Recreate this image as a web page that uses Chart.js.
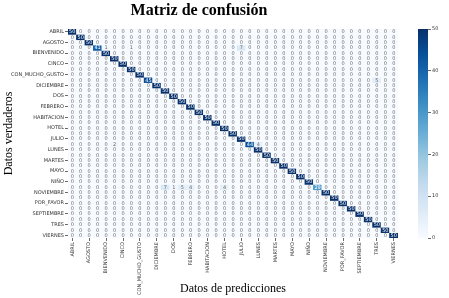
<!DOCTYPE html>
<html>
<head>
<meta charset="utf-8">
<script src="https://cdn.jsdelivr.net/npm/chart.js@4.4.0/dist/chart.umd.min.js"></script>
<style>
  html, body { margin: 0; padding: 0; background: #fff; }
  #wrap { position: relative; width: 449px; height: 298px; }
  #matrix { position: absolute; left: 0; top: 0; }
  #cbar { position: absolute; left: 400px; top: 0; }
</style>
</head>
<body>
<div id="wrap">
  <canvas id="matrix" width="449" height="298"></canvas>
  <canvas id="cbar" width="49" height="298"></canvas>
</div>
<script>
// Confusion matrix: 39 classes, 50 samples each. Only every other class name is shown on the axes.
const CLASSES = [
  "ABRIL", "ADIOS", "AGOSTO", "BIEN", "BIENVENIDO", "BUENOS_DIAS", "CINCO", "COMO_ESTAS",
  "CON_MUCHO_GUSTO", "CUATRO", "DICIEMBRE", "DIEZ", "DOS", "ENERO", "FEBRERO", "GRACIAS",
  "HABITACION", "HOLA", "HOTEL", "JUEVES", "JULIO", "JUNIO", "LUNES", "MAL", "MARTES",
  "MARZO", "MAYO", "MIERCOLES", "NIÑO", "NO", "NOVIEMBRE", "OCTUBRE", "POR_FAVOR",
  "SABADO", "SEPTIEMBRE", "SIETE", "TRES", "UNO", "VIERNES"
];

// correct predictions (diagonal)
const CORRECT = [
  50, 50, 50, 41, 50, 50, 50, 50, 50, 45,
  50, 50, 50, 50, 50, 50, 50, 50, 50, 50,
  50, 44, 50, 50, 50, 50, 50, 50, 50, 29,
  50, 50, 50, 50, 50, 50, 50, 50, 50
];

// misclassifications: [true row, predicted col, count]
const ERRORS = [
  [3, 4, 1], [3, 7, 1], [3, 20, 7],
  [9, 36, 5],
  [21, 5, 2], [21, 22, 4],
  [29, 11, 7], [29, 12, 1], [29, 13, 5], [29, 14, 4], [29, 18, 4]
];

const CBAR_TICKS = [0, 10, 20, 30, 40, 50];
const VMAX = 50;

// matplotlib "Blues"
const BLUES = ["#f7fbff", "#deebf7", "#c6dbef", "#9ecae1", "#6baed6", "#4292c6", "#2171b5", "#08519c", "#08306b"];

const matrix = CLASSES.map((_, r) => CLASSES.map((_, c) => (r === c ? CORRECT[r] : 0)));
ERRORS.forEach(([r, c, n]) => { matrix[r][c] = n; });

const hexToRgb = (h) => [1, 3, 5].map((i) => parseInt(h.slice(i, i + 2), 16));

const blues = (v) => {
  const t = Math.max(0, Math.min(1, v / VMAX)) * (BLUES.length - 1);
  const i = Math.min(Math.floor(t), BLUES.length - 2);
  const f = t - i;
  const a = hexToRgb(BLUES[i]);
  const b = hexToRgb(BLUES[i + 1]);
  return a.map((x, k) => Math.round(x + (b[k] - x) * f));
};

const rgbStr = (c) => `rgb(${c[0]},${c[1]},${c[2]})`;

// same rule seaborn uses for annotation colour (dark text looks grey at this size)
const textColor = (v) => {
  const lin = blues(v).map((x) => {
    const s = x / 255;
    return s <= 0.03928 ? s / 12.92 : Math.pow((s + 0.055) / 1.055, 2.4);
  });
  const lum = 0.2126 * lin[0] + 0.7152 * lin[1] + 0.0722 * lin[2];
  return lum < 0.408 ? "#ffffff" : "#6a6a6a";
};

const tickFont = { family: "DejaVu Sans", size: 5 };
const serif = { family: "Liberation Serif", size: 12 };
const evenTick = (ctx) => (ctx.index % 2 ? "rgba(0,0,0,0)" : "#444");

const cellText = {
  id: "cellText",
  afterDatasetsDraw(chart) {
    const { ctx } = chart;
    ctx.save();
    ctx.font = '5px "DejaVu Sans"';
    ctx.textAlign = "center";
    ctx.textBaseline = "middle";
    chart.data.datasets.forEach((ds, r) => {
      chart.getDatasetMeta(r).data.forEach((bar, c) => {
        const v = matrix[r][c];
        ctx.fillStyle = textColor(v);
        ctx.fillText(String(v), bar.x, (bar.y + bar.base) / 2 + 0.3);
      });
    });
    ctx.restore();
  }
};

const datasets = matrix.map((row, r) => ({
  label: CLASSES[r],
  data: row.map(() => [r - 0.5, r + 0.5]),
  backgroundColor: row.map((v) => rgbStr(blues(v))),
  grouped: false,
  barPercentage: 1,
  categoryPercentage: 1,
  borderWidth: 0
}));

new Chart(document.getElementById("matrix"), {
  type: "bar",
  data: { labels: CLASSES, datasets },
  options: {
    responsive: false,
    animation: false,
    devicePixelRatio: 1,
    layout: { padding: { left: 0, right: 51, top: 0, bottom: 0 } },
    plugins: {
      legend: { display: false },
      tooltip: { enabled: false },
      title: {
        display: true,
        text: "Matriz de confusión",
        color: "#000",
        font: { family: "Liberation Serif", size: 16, weight: "bold" },
        padding: { top: 1, bottom: 8.8 }
      }
    },
    scales: {
      x: {
        type: "category",
        offset: true,
        border: { display: false },
        grid: { offset: false, drawOnChartArea: false, tickLength: 3, lineWidth: 0.8, color: evenTick },
        ticks: {
          autoSkip: false,
          minRotation: 90,
          maxRotation: 90,
          padding: 1,
          color: "#333",
          font: tickFont,
          callback(v, i) { return i % 2 ? "" : CLASSES[i]; }
        },
        title: { display: true, text: "Datos de predicciones", color: "#000", font: serif, padding: { top: 0, bottom: 1.5 } },
        afterFit(scale) { scale.height = 60; }
      },
      y: {
        type: "linear",
        reverse: true,
        min: -0.5,
        max: CLASSES.length - 0.5,
        border: { display: false },
        grid: { drawOnChartArea: false, tickLength: 3, lineWidth: 0.8, color: evenTick },
        afterBuildTicks(scale) { scale.ticks = CLASSES.map((_, i) => ({ value: i })); },
        ticks: {
          padding: 1,
          color: "#333",
          font: tickFont,
          callback(v) { return v % 2 ? "" : CLASSES[v]; }
        },
        title: { display: true, text: "Datos verdaderos", color: "#000", font: serif, padding: { top: 2, bottom: 0 } },
        afterFit(scale) { scale.width = 68; }
      }
    }
  },
  plugins: [cellText]
});

// colour bar
const gradientFill = (ctx) => {
  const { chartArea, ctx: c } = ctx.chart;
  if (!chartArea) return BLUES[4];
  const g = c.createLinearGradient(0, chartArea.bottom, 0, chartArea.top);
  BLUES.forEach((col, i) => g.addColorStop(i / (BLUES.length - 1), col));
  return g;
};

new Chart(document.getElementById("cbar"), {
  type: "bar",
  data: {
    labels: [""],
    datasets: [{ data: [[0, VMAX]], backgroundColor: gradientFill, barPercentage: 1, categoryPercentage: 1, borderWidth: 0 }]
  },
  options: {
    responsive: false,
    animation: false,
    devicePixelRatio: 1,
    layout: { padding: { left: 18, top: 29, bottom: 60, right: 0 } },
    plugins: { legend: { display: false }, tooltip: { enabled: false } },
    scales: {
      x: { display: false },
      y: {
        position: "right",
        min: 0,
        max: VMAX,
        border: { display: false },
        grid: { drawOnChartArea: false, tickLength: 3, lineWidth: 0.8, color: "#444" },
        afterBuildTicks(scale) { scale.ticks = CBAR_TICKS.map((v) => ({ value: v })); },
        ticks: { padding: 1, color: "#333", font: tickFont },
        afterFit(scale) { scale.width = 21; }
      }
    }
  }
});
</script>
</body>
</html>
